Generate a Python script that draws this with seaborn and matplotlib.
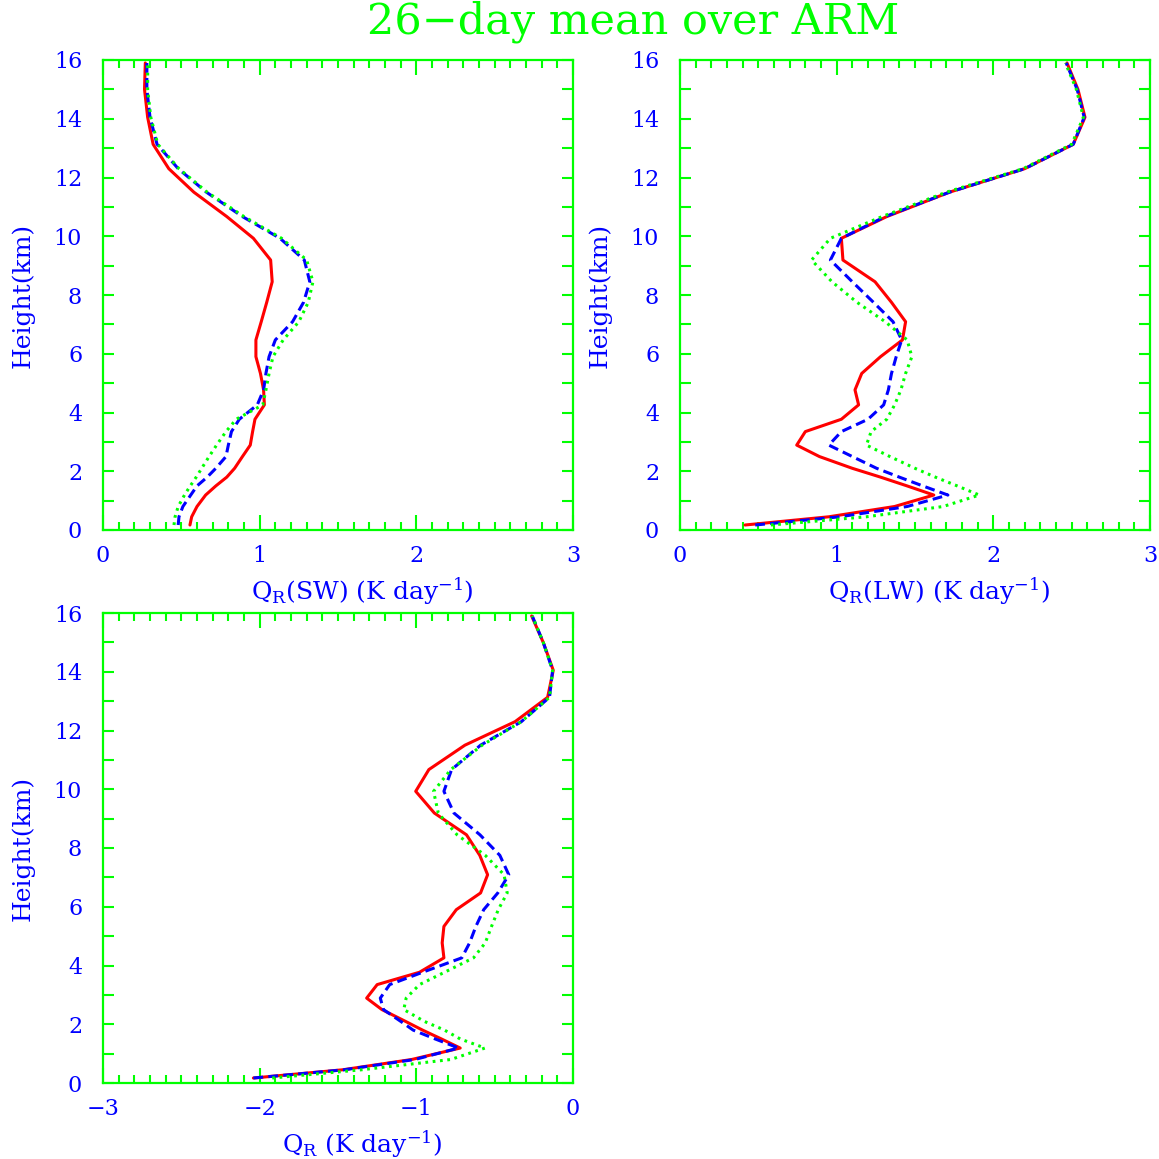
import matplotlib
matplotlib.use("Agg")
import matplotlib.pyplot as plt
import seaborn as sns
from matplotlib.ticker import MultipleLocator

# ---------------- data ----------------
heights = [0.17, 0.45, 0.8, 1.19, 1.5, 1.8, 2.1, 2.5, 2.89, 3.35, 3.77, 4.26, 4.77,
           5.33, 5.9, 6.47, 7.09, 7.75, 8.45, 9.19, 9.93, 10.67, 11.5, 12.3, 13.13,
           14.05, 15.0, 15.9]

sw_red = [0.555, 0.566, 0.60, 0.655, 0.72, 0.79, 0.84, 0.89, 0.94, 0.955, 0.97, 1.03, 1.025,
          1.005, 0.976, 0.976, 1.01, 1.045, 1.08, 1.07, 0.96, 0.79, 0.58, 0.42, 0.32,
          0.285, 0.265, 0.27]
sw_blue = [0.48, 0.485, 0.51, 0.56, 0.60, 0.665, 0.72, 0.785, 0.80, 0.82, 0.87, 0.985, 1.025,
           1.04, 1.06, 1.10, 1.21, 1.28, 1.32, 1.285, 1.13, 0.89, 0.66, 0.48, 0.345,
           0.30, 0.28, 0.28]
sw_green = [0.453, 0.46, 0.48, 0.52, 0.557, 0.595, 0.63, 0.677, 0.725, 0.785, 0.85, 1.02, 1.04,
            1.06, 1.085, 1.15, 1.25, 1.31, 1.34, 1.30, 1.14, 0.90, 0.665, 0.485, 0.35,
            0.305, 0.285, 0.285]

lw_red = [0.415, 0.95, 1.37, 1.62, 1.45, 1.28, 1.10, 0.89, 0.745, 0.80, 1.03, 1.14, 1.117,
          1.16, 1.28, 1.42, 1.44, 1.35, 1.245, 1.04, 1.03, 1.32, 1.72, 2.20, 2.51,
          2.585, 2.54, 2.47]
lw_blue = [0.48, 1.02, 1.45, 1.71, 1.55, 1.40, 1.255, 1.10, 0.95, 1.03, 1.20, 1.30, 1.33,
           1.35, 1.38, 1.415, 1.36, 1.235, 1.10, 0.96, 1.03, 1.31, 1.72, 2.20, 2.51,
           2.58, 2.535, 2.465]
lw_green = [0.58, 1.19, 1.68, 1.91, 1.77, 1.63, 1.50, 1.34, 1.19, 1.22, 1.32, 1.37, 1.41,
            1.44, 1.48, 1.45, 1.31, 1.13, 0.97, 0.84, 0.96, 1.29, 1.70, 2.19, 2.50,
            2.575, 2.53, 2.46]

tot_red = [-2.04, -1.47, -1.03, -0.72, -0.84, -0.96, -1.07, -1.22, -1.317, -1.25, -0.98, -0.824, -0.835,
           -0.824, -0.745, -0.59, -0.545, -0.595, -0.68, -0.885, -1.004, -0.92, -0.69, -0.37, -0.162,
           -0.126, -0.19, -0.264]
tot_blue = [-2.04, -1.46, -1.01, -0.73, -0.88, -1.02, -1.10, -1.21, -1.23, -1.17, -0.96, -0.71, -0.66,
            -0.62, -0.57, -0.48, -0.41, -0.467, -0.594, -0.76, -0.824, -0.775, -0.59, -0.33, -0.15,
            -0.13, -0.19, -0.26]
tot_green = [-1.92, -1.35, -0.78, -0.562, -0.72, -0.82, -0.95, -1.08, -1.065, -0.98, -0.82, -0.635, -0.56,
             -0.52, -0.477, -0.42, -0.44, -0.56, -0.74, -0.86, -0.89, -0.78, -0.58, -0.33, -0.15,
             -0.13, -0.19, -0.26]

title = "26\u2212day mean over ARM"
xlabels = ["$\\mathregular{Q_R}$(SW) (K day$^{-1}$)",
           "$\\mathregular{Q_R}$(LW) (K day$^{-1}$)",
           "$\\mathregular{Q_R}$ (K day$^{-1}$)"]
ylabel = "Height(km)"

# ---------------- style ----------------
sns.set_style("ticks")
plt.rcParams["font.family"] = ["DejaVu Serif"]
plt.rcParams["mathtext.fontset"] = "dejavuserif"
plt.rcParams["axes.unicode_minus"] = True

GREEN = "#00ff00"
BLUE = "#0000ff"
RED = "#ff0000"
W = 1159.0

fig = plt.figure(figsize=(11.59, 11.59), dpi=100)
ax1 = fig.add_axes([103 / W, 1 - 530 / W, 470 / W, 470 / W])
ax2 = fig.add_axes([680 / W, 1 - 530 / W, 470 / W, 470 / W])
ax3 = fig.add_axes([103 / W, 1 - 1083 / W, 470 / W, 470 / W])


def draw(ax, red, blue, green, xlim, xlabel):
    for vals, col, ls in [(red, RED, "-"), (blue, BLUE, "--"), (green, GREEN, ":")]:
        sns.lineplot(x=vals, y=heights, orient="y", sort=False, estimator=None,
                     color=col, linestyle=ls, linewidth=2.2, ax=ax)
        line = ax.lines[-1]
        if ls == "--":
            line.set_dashes((3.2, 1.7))
        elif ls == ":":
            line.set_dashes((0.9, 1.5))
    ax.set_xlim(*xlim)
    ax.set_ylim(0, 16)
    ax.set_xticks(range(int(xlim[0]), int(xlim[1]) + 1))
    ax.xaxis.set_minor_locator(MultipleLocator(0.1))
    ax.set_yticks(range(0, 17, 2))
    ax.yaxis.set_minor_locator(MultipleLocator(1))
    for sp in ax.spines.values():
        sp.set_visible(True)
        sp.set_color(GREEN)
        sp.set_linewidth(1.6)
    ax.tick_params(which="both", direction="in", top=True, right=True,
                   color=GREEN, width=1.5, labelcolor=BLUE, labelsize=16)
    ax.tick_params(axis="x", which="major", length=11, pad=11)
    ax.tick_params(axis="x", which="minor", length=6)
    ax.tick_params(axis="y", which="major", length=8, pad=15)
    ax.tick_params(axis="y", which="minor", length=8)
    ax.set_xlabel(xlabel, color=BLUE, fontsize=18, va="center")
    ax.xaxis.set_label_coords(0.552, -0.13)
    ax.set_ylabel(ylabel, color=BLUE, fontsize=18, va="center")
    ax.yaxis.set_label_coords(-0.170, 0.5)
    ax.set_facecolor("white")


draw(ax1, sw_red, sw_blue, sw_green, (0, 3), xlabels[0])
draw(ax2, lw_red, lw_blue, lw_green, (0, 3), xlabels[1])
draw(ax3, tot_red, tot_blue, tot_green, (-3, 0), xlabels[2])

fig.text(633 / W, 1 - 22 / W, title, ha="center", va="center", color=GREEN, fontsize=31)

fig.savefig("out.png", dpi=100, facecolor="white")
